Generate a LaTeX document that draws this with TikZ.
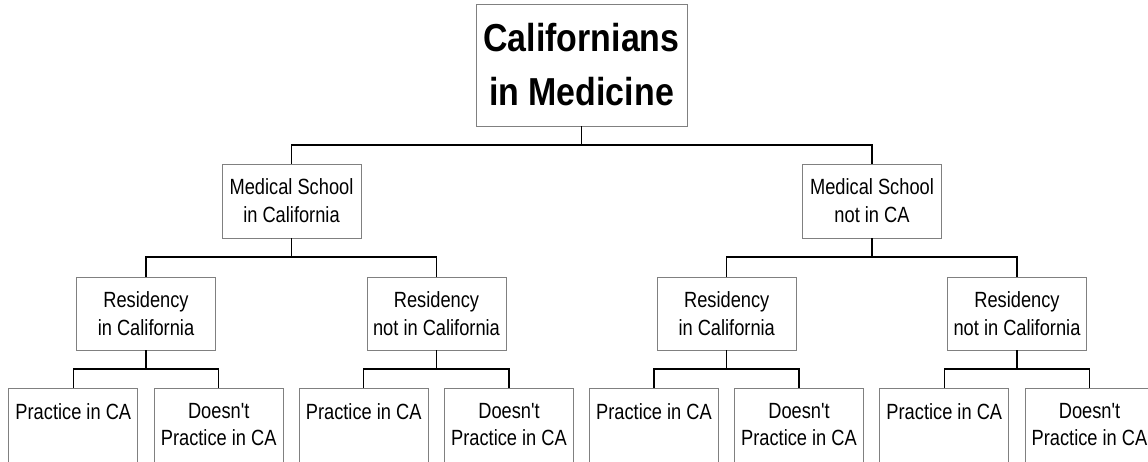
\documentclass[tikz,border=0pt]{standalone}
\usepackage{fontspec}
\newfontfamily\narrowfont[FakeStretch=0.83]{Liberation Sans}
\newfontfamily\titlefont[FakeStretch=0.87]{Liberation Sans Bold}
\definecolor{boxgray}{RGB}{128,128,128}
\begin{document}
\begin{tikzpicture}[x=1pt,y=-1pt,
  box/.style={draw=boxgray, line width=1pt, fill=white, rectangle, inner sep=0pt, outer sep=0pt, align=center,
    font=\narrowfont\fontsize{22}{28}\selectfont},
  mid/.style={box, minimum width=139pt, minimum height=74pt},
  leaf/.style={draw=boxgray, line width=1pt, fill=white, rectangle, inner sep=0pt, outer sep=0pt,
    minimum width=129pt, minimum height=100pt, anchor=north},
  leaftext/.style={anchor=north, inner sep=0pt, outer sep=0pt, align=center,
    font=\narrowfont\fontsize{22}{27}\selectfont},
  conn/.style={draw=black, line width=1.3pt}
]
\useasboundingbox (0,0) rectangle (1148,461);

\node[box, minimum width=211pt, minimum height=122pt, font=\titlefont\fontsize{39}{54}\selectfont] (top) at (581.5,65) {Californians\\in Medicine};

\node[mid] (ms1) at (291.5,201) {Medical School\\in California};
\node[mid] (ms2) at (872,201) {Medical School\\not in CA};

\node[mid, minimum height=73pt] (r1) at (146,313.5) {Residency\\in California};
\node[mid, minimum height=73pt] (r2) at (436.5,313.5) {Residency\\not in California};
\node[mid, minimum height=73pt] (r3) at (726.7,313.5) {Residency\\in California};
\node[mid, minimum height=73pt] (r4) at (1017,313.5) {Residency\\not in California};

\node[leaf] (l1) at (73.3,388) {};
\node[leaf] (l2) at (218.7,388) {};
\node[leaf] (l3) at (363.7,388) {};
\node[leaf] (l4) at (509,388) {};
\node[leaf] (l5) at (654,388) {};
\node[leaf] (l6) at (799,388) {};
\node[leaf] (l7) at (944.3,388) {};
\node[leaf] (l8) at (1089.5,388) {};

\node[leaftext] (t1) at ([yshift=-15.5pt]l1.north) {Practice in CA};
\node[leaftext] (t2) at ([yshift=-15.5pt]l2.north) {Doesn't\\Practice in CA};
\node[leaftext] (t3) at ([yshift=-15.5pt]l3.north) {Practice in CA};
\node[leaftext] (t4) at ([yshift=-15.5pt]l4.north) {Doesn't\\Practice in CA};
\node[leaftext] (t5) at ([yshift=-15.5pt]l5.north) {Practice in CA};
\node[leaftext] (t6) at ([yshift=-15.5pt]l6.north) {Doesn't\\Practice in CA};
\node[leaftext] (t7) at ([yshift=-15.5pt]l7.north) {Practice in CA};
\node[leaftext] (t8) at ([yshift=-15.5pt]l8.north) {Doesn't\\Practice in CA};

\draw[conn] (top.south) -- ++(0,19) -| (ms1.north);
\draw[conn] (top.south) -- ++(0,19) -| (ms2.north);
\draw[conn] (ms1.south) -- ++(0,19) -| (r1.north);
\draw[conn] (ms1.south) -- ++(0,19) -| (r2.north);
\draw[conn] (ms2.south) -- ++(0,19) -| (r3.north);
\draw[conn] (ms2.south) -- ++(0,19) -| (r4.north);
\draw[conn] (r1.south) -- ++(0,19) -| (l1.north);
\draw[conn] (r1.south) -- ++(0,19) -| (l2.north);
\draw[conn] (r2.south) -- ++(0,19) -| (l3.north);
\draw[conn] (r2.south) -- ++(0,19) -| (l4.north);
\draw[conn] (r3.south) -- ++(0,19) -| (l5.north);
\draw[conn] (r3.south) -- ++(0,19) -| (l6.north);
\draw[conn] (r4.south) -- ++(0,19) -| (l7.north);
\draw[conn] (r4.south) -- ++(0,19) -| (l8.north);
\end{tikzpicture}
\end{document}
